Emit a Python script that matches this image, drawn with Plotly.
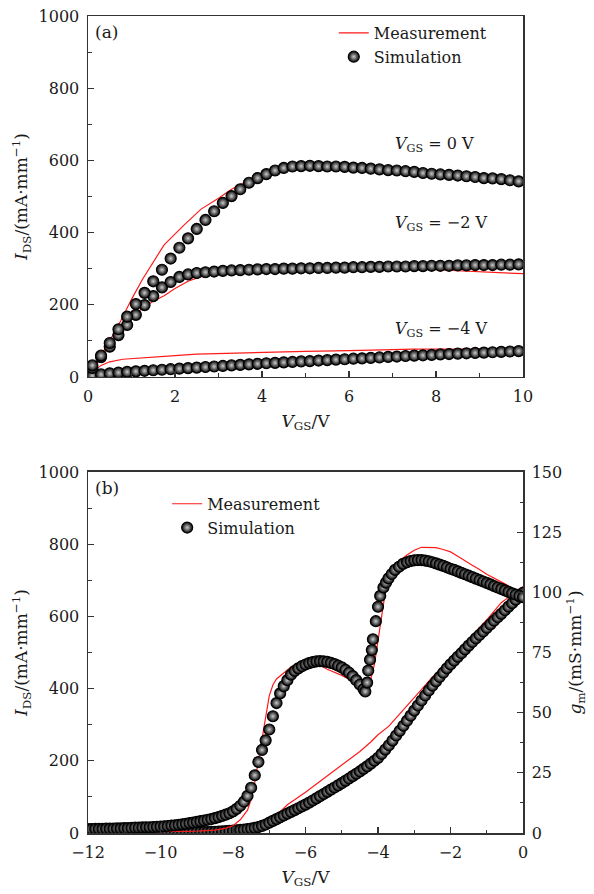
import plotly.graph_objects as go

# ---------------- panel (a) data ----------------
sim_x_a = [0.1, 0.3, 0.5, 0.7, 0.9, 1.1, 1.3, 1.5, 1.7, 1.9, 2.1, 2.3, 2.5, 2.7, 2.9,
           3.1, 3.3, 3.5, 3.7, 3.9, 4.1, 4.3, 4.5, 4.7, 4.9, 5.1, 5.3, 5.5, 5.7, 5.9,
           6.1, 6.3, 6.5, 6.7, 6.9, 7.1, 7.3, 7.5, 7.7, 7.9, 8.1, 8.3, 8.5, 8.7, 8.9,
           9.1, 9.3, 9.5, 9.7, 9.9]
sim_v0 = [32, 59, 94, 132, 167, 202, 233, 265, 297, 328, 358, 384, 410, 435, 459,
          482, 501, 520, 538, 551, 562, 572, 579, 583, 584, 585, 584, 583, 583, 582,
          580, 579, 577, 575, 573, 572, 570, 568, 565, 563, 561, 560, 558, 556, 554,
          551, 550, 548, 545, 542]
sim_vm2 = [25, 55, 84, 116, 144, 172, 199, 224, 248, 263, 277, 284, 288, 290, 292,
           294, 295, 296, 297, 298, 299, 299, 300, 300, 301, 301, 302, 302, 303, 303,
           304, 304, 305, 305, 306, 306, 306, 307, 307, 308, 308, 308, 309, 309, 310,
           310, 310, 311, 311, 312]
sim_vm4 = [3, 7, 10, 12, 14, 15.5, 17, 18.5, 20, 21.5, 23, 24.5, 26, 27.5, 29,
           30.5, 32, 33.5, 35, 36.5, 38, 39, 40.5, 41.5, 43, 44, 45.5, 46.5, 48, 49,
           50.5, 51.5, 53, 54, 55.5, 56.5, 58, 59, 60, 61, 62.5, 63.5, 64.5, 65.5, 66.5,
           67.5, 68.5, 69.5, 70.5, 71.5]

meas_x_v0 = [0, 0.25, 0.5, 0.75, 1.0, 1.25, 1.5, 1.75, 2.2, 2.6, 3.0, 3.3, 3.7, 4.1,
             4.6, 5.0, 5.5, 6, 7, 8, 9, 10]
meas_v0 = [0, 50, 100, 155, 215, 270, 320, 366, 420, 465, 495, 520, 545, 565,
           580, 585, 584, 581, 573, 562, 552, 542]
meas_x_vm2 = [0, 0.25, 0.5, 0.75, 1.0, 1.25, 1.5, 1.75, 2.0, 2.3, 2.6, 3.0, 3.5, 4,
              5, 6, 7, 8, 9, 10]
meas_vm2 = [0, 45, 90, 130, 165, 190, 210, 225, 245, 265, 278, 285, 290, 293,
            297, 299, 299, 297, 292, 286]
meas_x_vm4 = [0, 0.1, 0.3, 0.5, 0.8, 1.2, 2, 2.5, 3.5, 5, 6, 7.5, 8.5, 10]
meas_vm4 = [0, 12, 32, 42, 49, 53, 59, 63, 67, 71, 73, 77, 77, 78]

curve_labels = ["<i>V</i><sub>GS</sub> = 0 V", "<i>V</i><sub>GS</sub> = \u22122 V",
                "<i>V</i><sub>GS</sub> = \u22124 V"]
curve_label_y = [644, 424, 132]

# ---------------- panel (b) data ----------------
gm_x = [-12.0, -11.9, -11.8, -11.7, -11.6, -11.5, -11.4, -11.3, -11.2, -11.1,
        -11.0, -10.9, -10.8, -10.7, -10.6, -10.5, -10.4, -10.3, -10.2, -10.1,
        -10.0, -9.9, -9.8, -9.7, -9.6, -9.5, -9.4, -9.3, -9.2, -9.1,
        -9.0, -8.9, -8.8, -8.7, -8.6, -8.5, -8.4, -8.3, -8.2, -8.1,
        -8.0, -7.9, -7.8, -7.7, -7.6, -7.5, -7.4, -7.3, -7.2, -7.1,
        -7.0, -6.9, -6.8, -6.7, -6.6, -6.5, -6.4, -6.3, -6.2, -6.1,
        -6.0, -5.9, -5.8, -5.7, -5.6, -5.5, -5.4, -5.3, -5.2, -5.1,
        -5.0, -4.9, -4.8, -4.7, -4.6, -4.5, -4.4, -4.35, -4.3, -4.27,
        -4.22, -4.17, -4.14, -4.06, -4.0, -3.94, -3.85, -3.78, -3.71, -3.62,
        -3.53, -3.42, -3.31, -3.2, -3.1, -3.0, -2.9, -2.8, -2.7, -2.6,
        -2.5, -2.4, -2.3, -2.2, -2.1, -2.0, -1.9, -1.8, -1.7, -1.6,
        -1.5, -1.4, -1.3, -1.2, -1.1, -1.0, -0.9, -0.8, -0.7, -0.6,
        -0.5, -0.4, -0.3, -0.2, -0.1, 0.0]
gm_sim = [1.6, 1.6, 1.7, 1.7, 1.7, 1.8, 1.8, 1.8, 1.9, 1.9,
          2.0, 2.0, 2.1, 2.2, 2.2, 2.3, 2.4, 2.4, 2.5, 2.6,
          2.7, 2.8, 2.9, 3.1, 3.2, 3.4, 3.6, 3.8, 4.1, 4.3,
          4.6, 4.9, 5.2, 5.5, 5.8, 6.2, 6.6, 7.1, 7.6, 8.2,
          9.0, 10.0, 11.3, 13.0, 15.4, 18.8, 24.0, 29.5, 34.5, 38.5,
          43.0, 48.5, 54.0, 58.0, 61.0, 63.5, 65.8, 67.3, 68.4, 69.3,
          70.0, 70.6, 71.0, 71.3, 71.4, 71.3, 71.1, 70.7, 70.2, 69.5,
          68.8, 67.8, 66.6, 65.2, 63.5, 61.7, 59.8, 58.8, 62.5, 67.5,
          72.0, 76.0, 80.5, 88.0, 94.0, 98.5, 102.0, 104.0, 105.8, 107.6,
          109.3, 110.6, 111.8, 112.5, 113.0, 113.3, 113.4, 113.4, 113.2, 112.9,
          112.5, 112.0, 111.5, 111.0, 110.4, 109.8, 109.3, 108.7, 108.1, 107.5,
          106.9, 106.3, 105.7, 105.1, 104.5, 103.9, 103.3, 102.6, 102.0, 101.4,
          100.8, 100.2, 99.6, 99.0, 98.5, 98.0]

ids_x = [-12.0, -11.9, -11.8, -11.7, -11.6, -11.5, -11.4, -11.3, -11.2, -11.1,
         -11.0, -10.9, -10.8, -10.7, -10.6, -10.5, -10.4, -10.3, -10.2, -10.1,
         -10.0, -9.9, -9.8, -9.7, -9.6, -9.5, -9.4, -9.3, -9.2, -9.1,
         -9.0, -8.9, -8.8, -8.7, -8.6, -8.5, -8.4, -8.3, -8.2, -8.1,
         -8.0, -7.9, -7.8, -7.7, -7.6, -7.5, -7.4, -7.3, -7.2, -7.1,
         -7.0, -6.9, -6.8, -6.7, -6.6, -6.5, -6.4, -6.3, -6.2, -6.1,
         -6.0, -5.9, -5.8, -5.7, -5.6, -5.5, -5.4, -5.3, -5.2, -5.1,
         -5.0, -4.9, -4.8, -4.7, -4.6, -4.5, -4.4, -4.3, -4.2, -4.1,
         -4.0, -3.9, -3.8, -3.7, -3.6, -3.5, -3.4, -3.3, -3.2, -3.1,
         -3.0, -2.9, -2.8, -2.7, -2.6, -2.5, -2.4, -2.3, -2.2, -2.1,
         -2.0, -1.9, -1.8, -1.7, -1.6, -1.5, -1.4, -1.3, -1.2, -1.1,
         -1.0, -0.9, -0.8, -0.7, -0.6, -0.5, -0.4, -0.3, -0.2, -0.1, 0.0]
ids_sim = [0.3, 0.3, 0.3, 0.3, 0.3, 0.4, 0.4, 0.4, 0.4, 0.4,
           0.5, 0.5, 0.5, 0.5, 0.6, 0.6, 0.6, 0.7, 0.7, 0.8,
           0.8, 0.9, 1.0, 1.0, 1.1, 1.2, 1.3, 1.5, 1.6, 1.8,
           2.0, 2.2, 2.5, 2.8, 3.1, 3.5, 4.0, 4.5, 5.1, 5.8,
           6.6, 7.5, 8.5, 9.7, 11.0, 12.5, 14.3, 16.5, 19.5, 23.5,
           28.5, 33.5, 38.5, 43.5, 48.5, 53.5, 58.5, 63.5, 68.5, 73.5,
           78.5, 84, 90, 96, 102, 108, 114, 120, 126, 132,
           138, 144.5, 151, 157.5, 164, 170.5, 177.5, 184.5, 192, 200,
           208, 219, 231, 243, 256, 270, 283, 297, 311, 325,
           339, 353, 367, 381, 395, 408, 420, 432, 444, 456,
           467, 477.5, 488, 498, 508.5, 519, 529, 539, 548.5, 558,
           568, 578, 588, 597.5, 607, 617, 627, 636.5, 646, 655.5, 665]

gm_meas_x = [-12, -10, -9, -8.5, -8.2, -8.0, -7.8, -7.6, -7.5, -7.4, -7.3, -7.2,
             -7.1, -7.0, -6.9, -6.8, -6.6, -6.4, -6.2, -6.0, -5.7, -5.4, -5.0,
             -4.7, -4.5, -4.35, -4.2, -4.1, -4.0, -3.9, -3.8, -3.7, -3.5, -3.2,
             -3.0, -2.8, -2.6, -2.4, -2.2, -2.0, -1.8, -1.6, -1.4, -1.2, -1.0,
             -0.5, 0]
gm_meas = [0.3, 0.5, 0.8, 1.2, 2.0, 3.0, 5.5, 9.5, 14, 21, 30, 39,
           48, 57, 61.5, 64, 66.5, 69, 70.3, 71, 70.5, 68, 65.5,
           63, 61.5, 61, 64, 70, 80, 92, 100, 106, 112, 115.5,
           117.5, 118.7, 118.8, 118.6, 117.8, 116.8, 115, 113, 111.2, 109.5, 107.5,
           103.5, 99]

ids_meas_x = [-12, -9, -8.5, -8, -7.5, -7, -6.5, -6, -5.5, -5, -4.5, -4.2, -4.0,
              -3.7, -3.5, -3.0, -2.5, -2.0, -1.5, -1.0, -0.6, -0.3, 0]
ids_meas = [0, 0.5, 1, 3, 8, 30, 78, 113, 150, 187, 226, 252, 272,
            296, 318, 375, 432, 485, 538, 590, 638, 660, 683]

# ---------------- styles ----------------
FONT = "DejaVu Serif"
TXT = "#1a1a1a"
RED = "#ff1a1a"
BALL = dict(size=11, color="#000000", symbol="circle",
            gradient=dict(type="radial", color="#cccccc"),
            line=dict(color="#000000", width=1.2))

fig = go.Figure()

# panel (a) measurement lines
for i, (mx, my) in enumerate([(meas_x_v0, meas_v0), (meas_x_vm2, meas_vm2), (meas_x_vm4, meas_vm4)]):
    fig.add_trace(go.Scatter(x=mx, y=my, mode="lines", line=dict(color=RED, width=1.2),
                             name="Measurement", showlegend=(i == 0), legend="legend",
                             xaxis="x", yaxis="y"))
# panel (a) simulation dots
for i, sy in enumerate([sim_vm4, sim_vm2, sim_v0]):
    fig.add_trace(go.Scatter(x=sim_x_a, y=sy, mode="markers", marker=BALL,
                             name="Simulation", showlegend=(i == 0), legend="legend",
                             xaxis="x", yaxis="y"))

# panel (b)
fig.add_trace(go.Scatter(x=ids_meas_x, y=ids_meas, mode="lines", line=dict(color=RED, width=1.2),
                         name="Measurement", showlegend=True, legend="legend2",
                         xaxis="x2", yaxis="y2"))
fig.add_trace(go.Scatter(x=gm_meas_x, y=gm_meas, mode="lines", line=dict(color=RED, width=1.2),
                         name="Measurement", showlegend=False, legend="legend2",
                         xaxis="x2", yaxis="y3"))
fig.add_trace(go.Scatter(x=ids_x, y=ids_sim, mode="markers", marker=BALL,
                         name="Simulation", showlegend=True, legend="legend2",
                         xaxis="x2", yaxis="y2"))
fig.add_trace(go.Scatter(x=gm_x, y=gm_sim, mode="markers", marker=BALL,
                         name="Simulation", showlegend=False, legend="legend2",
                         xaxis="x2", yaxis="y3"))

AX = dict(showgrid=False, zeroline=False, showline=True, linecolor="#333333", linewidth=1.5,
          mirror=True, ticks="inside", ticklen=6, tickwidth=1.2, tickcolor="#333333",
          automargin=False, ticklabelstandoff=4,
          tickfont=dict(family=FONT, size=16, color=TXT))
MINOR = dict(ticks="inside", ticklen=3.5, tickwidth=1.1, tickcolor="#333333")
TITLEFONT = dict(family=FONT, size=17, color=TXT)
YTITLE = "<i>I</i><sub>DS</sub>/(mA\u00b7mm<sup>\u22121</sup>)"
XTITLE = "<i>V</i><sub>GS</sub>/V"

ann = []
for t, yy in zip(curve_labels, curve_label_y):
    ann.append(dict(x=7.0, y=yy, xref="x", yref="y", text=t, showarrow=False,
                    xanchor="left", yanchor="middle",
                    font=dict(family=FONT, size=16, color=TXT)))
ann.append(dict(x=0.012, y=0.988, xref="x domain", yref="y domain", text="(a)", showarrow=False,
                xanchor="left", yanchor="top", font=dict(family=FONT, size=17, color=TXT)))
ann.append(dict(x=0.012, y=0.988, xref="x2 domain", yref="y2 domain", text="(b)", showarrow=False,
                xanchor="left", yanchor="top", font=dict(family=FONT, size=17, color=TXT)))

fig.update_layout(
    width=594, height=894,
    margin=dict(l=88, r=71, t=16, b=61),
    paper_bgcolor="white", plot_bgcolor="white",
    font=dict(family=FONT, size=16, color=TXT),
    hovermode=False,
    xaxis=dict(AX, domain=[0, 1], anchor="y", range=[0, 10], dtick=2,
               minor=dict(MINOR, dtick=1),
               title=dict(text=XTITLE, font=TITLEFONT, standoff=10)),
    yaxis=dict(AX, domain=[0.5582, 1.0], anchor="x", range=[0, 1000], dtick=200,
               minor=dict(MINOR, dtick=100),
               title=dict(text=YTITLE, font=TITLEFONT, standoff=6)),
    xaxis2=dict(AX, domain=[0, 1], anchor="y2", range=[-12, 0], dtick=2,
                minor=dict(MINOR, dtick=1),
                title=dict(text=XTITLE, font=TITLEFONT, standoff=10)),
    yaxis2=dict(AX, domain=[0, 0.4419], anchor="x2", range=[0, 1000], dtick=200,
                mirror=False, minor=dict(MINOR, dtick=100),
                title=dict(text=YTITLE, font=TITLEFONT, standoff=6)),
    yaxis3=dict(AX, anchor="x2", overlaying="y2", side="right", range=[0, 150], dtick=25,
                mirror=False, minor=dict(MINOR, dtick=12.5),
                title=dict(text="<i>g</i><sub>m</sub>/(mS\u00b7mm<sup>\u22121</sup>)", font=TITLEFONT,
                           standoff=8)),
    legend=dict(x=0.565, y=1.0, xanchor="left", yanchor="top", bgcolor="rgba(0,0,0,0)",
                font=dict(family=FONT, size=16, color=TXT), tracegroupgap=0),
    legend2=dict(x=0.182, y=0.4237, xanchor="left", yanchor="top", bgcolor="rgba(0,0,0,0)",
                 font=dict(family=FONT, size=16, color=TXT), tracegroupgap=0),
    annotations=ann,
)

fig.write_html("out.html", config={"displayModeBar": False, "staticPlot": True},
               post_script="document.body.style.margin='0';document.body.style.padding='0';")
